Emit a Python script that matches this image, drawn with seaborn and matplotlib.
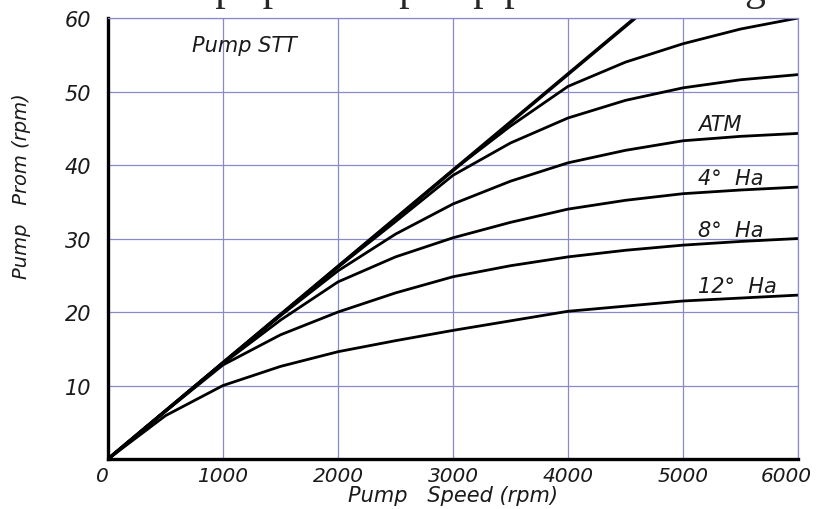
import pandas as pd
import seaborn as sns
import matplotlib.pyplot as plt
import matplotlib.transforms as mtransforms

sns.set_style('white')
plt.rcParams['font.family'] = ['DejaVu Sans']

# pump speed (rpm) sampling points for the curves
speed = [0, 500, 1000, 1500, 2000, 2500, 3000, 3500, 4000, 4500, 5000,
         5500, 6000]

# straight "Pump STT" line
stt_speed = [0, 4583]
stt_prom = [0, 60]

# curves, top to bottom
curve_top = [0, 6.55, 13.1, 19.6, 26.2, 32.7, 39.3, 45.3, 50.7, 54.0, 56.5,
             58.5, 60.0]
curve_second = [0, 6.55, 13.1, 19.6, 26.1, 32.3, 38.6, 43.0, 46.4, 48.8,
                50.5, 51.6, 52.3]
curve_atm = [0, 6.55, 13.1, 19.5, 25.6, 30.6, 34.7, 37.8, 40.3, 42.0, 43.3,
             43.9, 44.3]
curve_4ha = [0, 6.55, 13.0, 18.9, 24.1, 27.5, 30.1, 32.2, 34.0, 35.2, 36.1,
             36.6, 37.0]
curve_8ha = [0, 6.5, 12.8, 16.9, 20.0, 22.6, 24.8, 26.3, 27.5, 28.4, 29.1,
             29.6, 30.0]
curve_12ha = [0, 5.9, 10.0, 12.6, 14.6, 16.1, 17.5, 18.8, 20.1, 20.8, 21.5,
              21.9, 22.3]

curves = [curve_top, curve_second, curve_atm, curve_4ha, curve_8ha,
          curve_12ha]
curve_labels = ['', '', 'ATM', '4\u00b0  Ha', '8\u00b0  Ha', '12\u00b0  Ha']

x_ticks = [0, 1000, 2000, 3000, 4000, 5000, 6000]
y_ticks = [10, 20, 30, 40, 50, 60]

grid_color = '#8a8ac8'
font = {'family': 'DejaVu Sans', 'style': 'italic', 'color': '#1a1a1a'}

fig, ax = plt.subplots(figsize=(8.22, 5.10), dpi=100)
fig.subplots_adjust(left=0.1314, right=0.9708, bottom=0.098, top=0.9627)

stt = pd.DataFrame({'speed': stt_speed, 'prom': stt_prom})
sns.lineplot(data=stt, x='speed', y='prom', color='black', lw=2.6, ax=ax)

for values in curves:
    df = pd.DataFrame({'speed': speed, 'prom': values})
    sns.lineplot(data=df, x='speed', y='prom', color='black', lw=2.0, ax=ax)

# curve labels sit just above the right-hand end of each curve
for values, label in zip(curves, curve_labels):
    if label:
        ax.text(5130, values[-2] + 0.8, label, fontsize=15, **font)

ax.text(1190, 56.3, 'Pump STT', fontsize=15, ha='center', va='center',
        **font)

ax.set_xlim(0, 6000)
ax.set_ylim(0, 60)
ax.set_xticks(x_ticks)
ax.set_yticks(y_ticks)
ax.set_xticklabels([str(t) for t in x_ticks], fontsize=14.5, **font)
ax.set_yticklabels([str(t) for t in y_ticks], fontsize=15, **font)
ax.tick_params(axis='x', length=0, pad=5)
ax.tick_params(axis='y', length=0, pad=12)
ax.grid(True, color=grid_color, lw=0.9)

# the last x label is pulled in a little so it stays on the canvas
last = ax.get_xticklabels()[-1]
last.set_transform(last.get_transform() + mtransforms.ScaledTranslation(
    -12 / 100, 0, fig.dpi_scale_trans))
first = ax.get_xticklabels()[0]
first.set_transform(first.get_transform() + mtransforms.ScaledTranslation(
    -6 / 100, 0, fig.dpi_scale_trans))

for side in ['left', 'bottom']:
    ax.spines[side].set_color('black')
    ax.spines[side].set_linewidth(2.4)
for side in ['top', 'right']:
    ax.spines[side].set_color(grid_color)
    ax.spines[side].set_linewidth(0.9)

ax.set_xlabel('Pump   Speed (rpm)', fontsize=15, labelpad=0, **font)
ax.set_ylabel('Pump   Prom (rpm)', fontsize=14, **font)
ax.yaxis.set_label_coords(-0.112, 0.62)

# title is cut off at the top edge of the original picture
fig.text(0.55, 1.0, 'Pump speed vs pump prom at heeling',
         fontsize=30, family='Liberation Serif', ha='center', va='baseline')

plt.savefig('out.png')
